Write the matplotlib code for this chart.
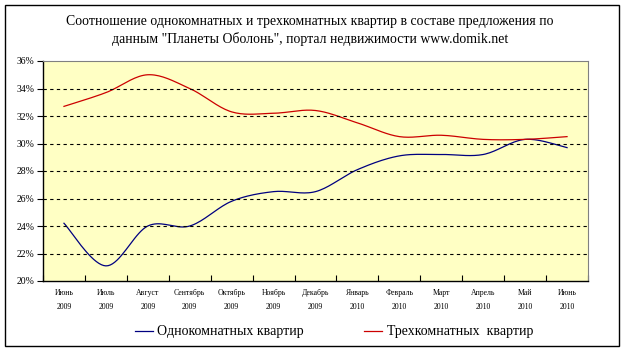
import numpy as np
import matplotlib
matplotlib.use("Agg")
import matplotlib.pyplot as plt
from matplotlib.patches import Rectangle

months = ["Июнь", "Июль", "Август", "Сентябрь", "Октябрь", "Ноябрь", "Декабрь",
          "Январь", "Февраль", "Март", "Апрель", "Май", "Июнь"]
years = ["2009"] * 7 + ["2010"] * 6
one_room = [24.2, 21.1, 24.0, 24.0, 25.8, 26.5, 26.5, 28.1, 29.1, 29.2, 29.2, 30.3, 29.7]
three_room = [32.7, 33.7, 35.0, 34.0, 32.3, 32.2, 32.4, 31.5, 30.5, 30.6, 30.3, 30.3, 30.5]

title = ('Соотношение однокомнатных и трехкомнатных квартир в составе предложения по\n'
         'данным "Планеты Оболонь", портал недвижимости www.domik.net')
label_one = "Однокомнатных квартир"
label_three = "Трехкомнатных  квартир"

plt.rcParams['font.family'] = ['Liberation Serif', 'DejaVu Serif']


# smoothed line like Excel (Catmull-Rom between points)
def smooth(x, y, n=20):
	x = np.asarray(x, float)
	y = np.asarray(y, float)
	px = np.concatenate([[x[0]], x, [x[-1]]])
	py = np.concatenate([[y[0]], y, [y[-1]]])
	xs, ys = [], []
	t = np.linspace(0, 1, n)
	for i in range(1, len(px) - 2):
		p0, p1, p2, p3 = px[i-1], px[i], px[i+1], px[i+2]
		q0, q1, q2, q3 = py[i-1], py[i], py[i+1], py[i+2]
		bx = [p1, p1 + (p2 - p0) / 6, p2 - (p3 - p1) / 6, p2]
		by = [q1, q1 + (q2 - q0) / 6, q2 - (q3 - q1) / 6, q2]
		for b, out in ((bx, xs), (by, ys)):
			out.extend((1-t)**3*b[0] + 3*(1-t)**2*t*b[1] + 3*(1-t)*t**2*b[2] + t**3*b[3])
	return np.array(xs), np.array(ys)


fig = plt.figure(figsize=(6.24, 3.51), dpi=100)
fig.patches.append(Rectangle((5/624, 1-346/351), 614/624, 341/351, transform=fig.transFigure,
                             fill=False, edgecolor='black', linewidth=1.0))

ax = fig.add_axes([43/624, 1-281/351, 545/624, 220/351])
ax.set_facecolor('#FFFFC4')

x = np.arange(len(months))
sx, sy = smooth(x, one_room)
ax.plot(sx, sy, color='#000080', linewidth=0.9, label=label_one)
sx, sy = smooth(x, three_room)
ax.plot(sx, sy, color='#CC0000', linewidth=0.9, label=label_three)

ax.set_xlim(-0.5, len(months) - 0.5)
ax.set_ylim(20, 36)
ticks = np.arange(20, 37, 2)
ax.set_yticks(ticks)
ax.set_yticklabels([f"{t}%" for t in ticks], fontsize=7)
for t in ticks[1:-1]:
	ax.axhline(t, color='black', linestyle=(0, (3, 3)), linewidth=0.8)

ax.set_xticks(np.arange(-0.5, len(months), 1))
ax.set_xticklabels([])
ax.set_xticks(x, minor=True)
ax.set_xticklabels([f"{m}\n{y}" for m, y in zip(months, years)], minor=True, fontsize=5.6,
                   linespacing=1.9)
ax.tick_params(axis='x', which='minor', length=0, pad=6)
ax.tick_params(axis='x', which='major', length=4, direction='in', width=0.8)
ax.tick_params(axis='y', length=4, direction='out', width=0.8, pad=2)

ax.spines['top'].set_color('#808080')
ax.spines['right'].set_color('#808080')
for s in ('left', 'bottom'):
	ax.spines[s].set_linewidth(1.0)

fig.text(0.497, 1-30.5/351, title, ha='center', va='center', fontsize=9.9, linespacing=1.45)

fig.legend(loc='center', bbox_to_anchor=(0.535, 1-332/351), ncol=2, frameon=False,
           fontsize=10, handlelength=1.3, columnspacing=4.3, handletextpad=0.35)

fig.savefig("out.png", dpi=100)
